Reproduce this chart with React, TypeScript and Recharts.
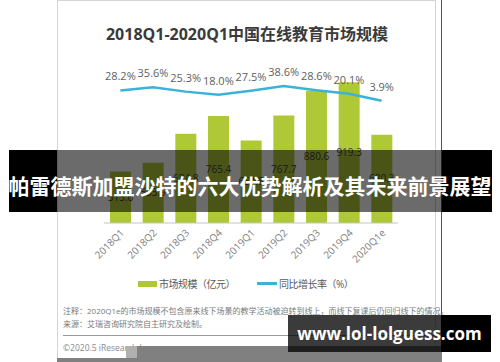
import { ComposedChart, Bar, Line, XAxis, YAxis, LabelList } from 'recharts';

const quarters = ['2018Q1', '2018Q2', '2018Q3', '2018Q4', '2019Q1', '2019Q2', '2019Q3', '2019Q4', '2020Q1e'];
const marketSize = [513.6, 553.9, 684.8, 765.4, 654.8, 767.7, 880.6, 919.3, 680.3];
const growthRate = [28.2, 35.6, 25.3, 18.0, 27.5, 38.6, 28.6, 20.1, 3.9];

const data = quarters.map((q, i) => ({ q, size: marketSize[i], rate: growthRate[i] }));

const FONT = "'Open Sans', 'Noto Sans CJK SC', sans-serif";
const GREEN = '#afc936';
const BLUE = '#3bb3d6';

const XTick = (props: any) => {
  const { x, y, payload } = props;
  return (
    <g transform={`translate(${x + 2},${y})`}>
      <text x={0} y={0} dy="0.35em" textAnchor="end" fill="#808080" fontSize={10} fontFamily={FONT} transform="rotate(-45)">
        {payload.value}
      </text>
    </g>
  );
};

export default function App() {
  return (
    <div style={{ position: 'absolute', left: 0, top: 0, width: 500, height: 362, background: '#fff', overflow: 'hidden', fontFamily: FONT }}>
      {/* frame of the source image */}
      <div style={{ position: 'absolute', left: 57, top: 0, width: 377, height: 357, border: '1px solid #d4d4d4' }} />
      <div style={{ position: 'absolute', left: 441, top: 0, width: 1, height: 362, background: '#555' }} />

      <div style={{ position: 'absolute', left: 57, width: 380, top: 21, textAlign: 'center', fontSize: 16, fontWeight: 700, color: '#3a3a3a' }}>
        2018Q1-2020Q1中国在线教育市场规模
      </div>

      <div style={{ position: 'absolute', left: 0, top: 0 }}>
        <ComposedChart width={500} height={362} data={data} margin={{ top: 60, right: 102, bottom: 109, left: 104 }}>
          <XAxis dataKey="q" height={30} axisLine={{ stroke: '#c4c4c4' }} tickLine={false} interval={0} tick={<XTick />} />
          <YAxis yAxisId="size" hide domain={[280, 1020]} allowDataOverflow />
          <YAxis yAxisId="rate" hide domain={[-285, 100]} allowDataOverflow />
          <Bar yAxisId="size" dataKey="size" fill={GREEN} barSize={21} isAnimationActive={false}>
            <LabelList dataKey="size" position="center" fill="#404040" fontSize={10} fontFamily={FONT} formatter={(v: any) => Number(v).toFixed(1)} />
          </Bar>
          <Line yAxisId="rate" dataKey="rate" stroke={BLUE} strokeWidth={2.5} dot={false} type="linear" isAnimationActive={false}>
            <LabelList dataKey="rate" position="top" offset={10} fill="#606060" fontSize={11} fontFamily={FONT} formatter={(v: any) => `${Number(v).toFixed(1)}%`} />
          </Line>
        </ComposedChart>
      </div>

      {/* legend */}
      <div style={{ position: 'absolute', left: 138, top: 276, display: 'flex', gap: 22, fontSize: 10, color: '#595959', letterSpacing: -0.5, whiteSpace: 'nowrap' }}>
        <div style={{ display: 'flex', alignItems: 'center', gap: 2 }}>
          <span style={{ display: 'inline-block', width: 19, height: 6, background: GREEN }} />
          <span>市场规模（亿元）</span>
        </div>
        <div style={{ display: 'flex', alignItems: 'center', gap: 2 }}>
          <span style={{ display: 'inline-block', width: 20, height: 2.5, background: BLUE }} />
          <span>同比增长率（%）</span>
        </div>
      </div>

      <div style={{ position: 'absolute', left: 63, top: 304, fontSize: 8, color: '#7a7a7a', whiteSpace: 'nowrap', lineHeight: '13px' }}>
        <div>注释：2020Q1e的市场规模不包含原来线下场景的教学活动被迫转到线上，而线下复课后仍回归线下的情况。</div>
        <div>来源：艾瑞咨询研究院自主研究及绘制。</div>
      </div>
      <div style={{ position: 'absolute', left: 63, top: 335, width: 372, height: 1, background: '#9a9a9a' }} />
      <div style={{ position: 'absolute', left: 63, top: 342, fontSize: 8.5, color: '#8a8a8a', whiteSpace: 'nowrap' }}>©2020.5 iResearch Inc.</div>

      {/* bottom strip of the source image */}
      <div style={{ position: 'absolute', left: 137, top: 346, width: 305, height: 16, background: '#808080' }} />
      <div style={{ position: 'absolute', left: 57, top: 358, width: 80, height: 4, background: '#808080' }} />
      <div style={{ position: 'absolute', left: 126, top: 346, width: 11, height: 12, background: '#b0b0b0' }} />

      {/* headline banner */}
      <div style={{ position: 'absolute', left: 9, top: 150, width: 48, height: 62, background: '#000' }} />
      <div style={{ position: 'absolute', left: 57, top: 150, width: 385, height: 62, background: 'rgba(0,0,0,0.58)' }} />
      <div style={{ position: 'absolute', left: 442, top: 150, width: 50, height: 62, background: '#000' }} />
      <div style={{ position: 'absolute', left: 0, top: 170, width: 500, textAlign: 'center', color: '#fff', fontSize: 21, fontWeight: 700, lineHeight: '31px', fontFamily: "'Noto Sans CJK SC', sans-serif", whiteSpace: 'nowrap' }}>
        帕雷德斯加盟沙特的六大优势解析及其未来前景展望
      </div>

      {/* watermark */}
      <div style={{ position: 'absolute', left: 288, top: 315, width: 153, height: 37, background: 'rgba(0,0,0,0.77)' }} />
      <div style={{ position: 'absolute', left: 441, top: 315, width: 50, height: 37, background: '#000' }} />
      <div style={{ position: 'absolute', left: 288, top: 315, width: 203, height: 37, lineHeight: '37px', textAlign: 'center', color: '#fff', fontSize: 17, fontWeight: 700, fontFamily: "'Open Sans', sans-serif", whiteSpace: 'nowrap' }}>
        www.lol-lolguess.com
      </div>
    </div>
  );
}
